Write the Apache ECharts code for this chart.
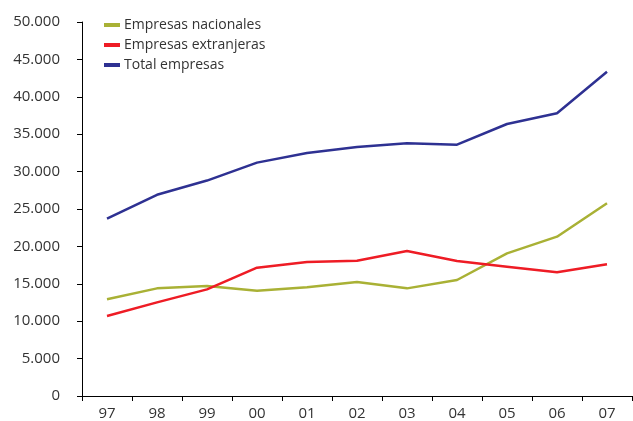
<!DOCTYPE html>
<html><head><meta charset="utf-8">
<script src="https://cdn.jsdelivr.net/npm/echarts@6/dist/echarts.min.js"></script>
<style>html,body{margin:0;padding:0;background:#fff}#c{width:633px;height:421px}</style>
</head><body><div id="c"></div>
<script>
const categories = ['97','98','99','00','01','02','03','04','05','06','07'];
const nacionales = [12930, 14390, 14700, 14080, 14530, 15240, 14390, 15510, 19070, 21300, 25760];
const extranjeras = [10700, 12520, 14260, 17160, 17920, 18090, 19390, 18050, 17290, 16530, 17600];
const total = [23700, 26900, 28800, 31200, 32500, 33300, 33780, 33600, 36360, 37790, 43360];
const seriesNames = ['Empresas nacionales', 'Empresas extranjeras', 'Total empresas'];
const colors = ['#a9b135', '#ee1c25', '#2e3192'];

const chart = echarts.init(document.getElementById('c'), null, {renderer:'canvas'});
const font = '"Open Sans", sans-serif';
chart.setOption({
  animation: false,
  color: colors,
  grid: {left: 82, right: 1, top: 22, bottom: 25, containLabel: false},
  legend: {
    orient: 'vertical', left: 99, top: 13, itemWidth: 16, itemHeight: 4, itemGap: 6,
    icon: 'rect',
    textStyle: {fontFamily: font, fontSize: 14, color: '#333', padding: [0,0,0,-1]},
    data: seriesNames
  },
  xAxis: {
    type: 'category', data: categories, boundaryGap: true,
    axisLine: {lineStyle: {color: '#000', width: 1}},
    axisTick: {show: true, length: 5, lineStyle: {color: '#000'}},
    axisLabel: {fontFamily: font, fontSize: 15, color: '#333', margin: 10}
  },
  yAxis: {
    type: 'value', min: 0, max: 50000, interval: 5000,
    splitLine: {show: false},
    axisLine: {show: true, lineStyle: {color: '#000', width: 1}},
    axisTick: {show: true, length: 5, lineStyle: {color: '#000'}},
    axisLabel: {fontFamily: font, fontSize: 15, color: '#333', margin: 22,
      formatter: v => v === 0 ? '0' : String(v).replace(/\B(?=(\d{3})+(?!\d))/g, '.')}
  },
  series: [
    {name: seriesNames[0], type: 'line', data: nacionales, symbol: 'none', lineStyle: {width: 2.5}},
    {name: seriesNames[1], type: 'line', data: extranjeras, symbol: 'none', lineStyle: {width: 2.5}},
    {name: seriesNames[2], type: 'line', data: total, symbol: 'none', lineStyle: {width: 2.5}}
  ]
});
</script></body></html>
